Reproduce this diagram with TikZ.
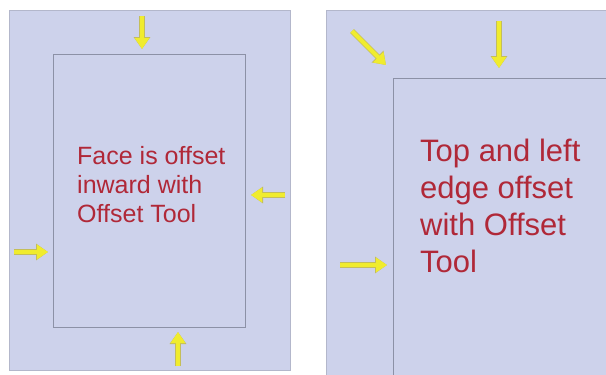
\documentclass[tikz,border=0pt]{standalone}
\usepackage{fontspec}
\setmainfont{Liberation Sans}
\usetikzlibrary{arrows.meta}
\definecolor{panelfill}{HTML}{CDD2EB}
\definecolor{outerline}{HTML}{B3B7CB}
\definecolor{innerline}{HTML}{8C91A6}
\definecolor{arrowyellow}{HTML}{F0EC2E}
\definecolor{arrowedge}{HTML}{C4BE5A}
\definecolor{textred}{HTML}{B02838}
\tikzset{
  panel/.style={fill=panelfill, draw=outerline, line width=1pt},
  face/.style={draw=innerline, line width=1pt},
  yarrow/.style={draw=arrowyellow, line width=4pt,
    -{Triangle[width=14pt,length=11pt]},
    preaction={draw=arrowedge, line width=5.5pt, -{Triangle[width=16pt,length=12pt]}}},
  label/.style={text=textred, anchor=north west, inner sep=0pt, align=left}
}
\begin{document}
\begin{tikzpicture}[x=1pt,y=-1pt]
\useasboundingbox (0,0) rectangle (606,375);
\fill[white] (0,0) rectangle (606,375);
% left panel
\path[panel] (9,10) rectangle (290,370);
\path[face] (53,54) rectangle (245,327);
\node[label, font=\fontsize{25}{29}\selectfont] (lt) at (77,146) {Face is offset\\inward with\\Offset Tool};
\coordinate (a1s) at (142,16); \coordinate (a1e) at (142,49);
\coordinate (a2s) at (285,195); \coordinate (a2e) at (251,195);
\coordinate (a3s) at (14,252); \coordinate (a3e) at (48,252);
\coordinate (a4s) at (178,366); \coordinate (a4e) at (178,332);
\draw[yarrow] (a1s) -- (a1e);
\draw[yarrow] (a2s) -- (a2e);
\draw[yarrow] (a3s) -- (a3e);
\draw[yarrow] (a4s) -- (a4e);
% right panel
\path[panel] (326,10) rectangle (608,377);
\path[face] (393,78) rectangle (608,377);
\node[label, font=\fontsize{31}{37}\selectfont] (rt) at (420,139) {Top and left\\edge offset\\with Offset\\Tool};
\coordinate (b1s) at (352,31); \coordinate (b1e) at (386,65);
\coordinate (b2s) at (499,21); \coordinate (b2e) at (499,68);
\coordinate (b3s) at (340,265); \coordinate (b3e) at (387,265);
\draw[yarrow] (b1s) -- (b1e);
\draw[yarrow] (b2s) -- (b2e);
\draw[yarrow] (b3s) -- (b3e);
\end{tikzpicture}
\end{document}
